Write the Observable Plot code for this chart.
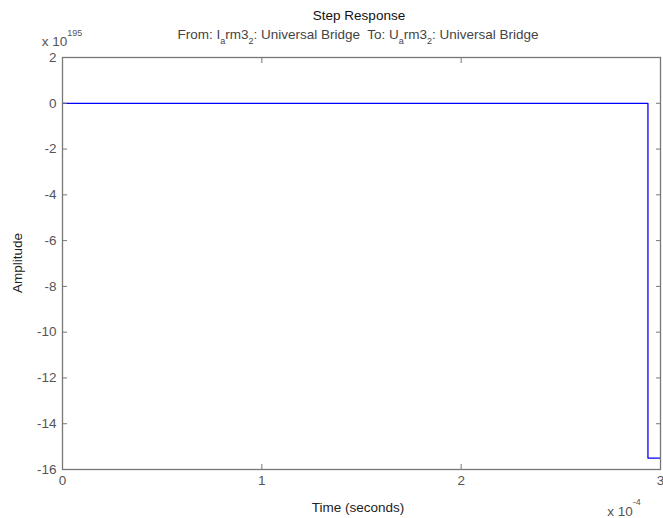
<!DOCTYPE html>
<html><head><meta charset="utf-8">
<script src="https://cdn.jsdelivr.net/npm/d3@7"></script>
<script src="https://cdn.jsdelivr.net/npm/@observablehq/plot@0.6"></script>
<style>
body{margin:0;background:#fff;}
svg{font-family:"Liberation Sans",Arial,sans-serif;}
</style></head>
<body><div id="chart"></div>
<script>
// time in units of 1e-4 s, amplitude in units of 1e195
const time = [0, 2.937, 3];
const amplitude = [0, -15.5, -15.5];
const xTicks = [0, 1, 2, 3];
const yTicks = [2, 0, -2, -4, -6, -8, -10, -12, -14, -16];

const data = time.map((t, i) => ({t, a: amplitude[i]}));
const empty = () => "";
const fmt = d => String(d);
const tickColor = "#777";
const labelColor = "#555";
const FS = 13.5;

const plot = Plot.plot({
  width: 663, height: 518,
  marginLeft: 62, marginRight: 3, marginTop: 57, marginBottom: 49,
  style: {fontFamily: "Liberation Sans, Arial, sans-serif", fontSize: FS + "px", background: "#fff", overflow: "visible"},
  x: {domain: [0, 3]},
  y: {domain: [-16, 2]},
  marks: [
    Plot.line(data, {x: "t", y: "a", curve: "step-after", stroke: "#0000ff", strokeWidth: 1.3}),
    Plot.axisX(xTicks, {anchor: "bottom", tickSize: -5, tickFormat: empty, stroke: tickColor, label: null}),
    Plot.axisX(xTicks, {anchor: "top", tickSize: -5, tickFormat: empty, stroke: tickColor, label: null}),
    Plot.axisY(yTicks, {anchor: "left", tickSize: -5, tickFormat: empty, stroke: tickColor, label: null}),
    Plot.axisY(yTicks, {anchor: "right", tickSize: -5, tickFormat: empty, stroke: tickColor, label: null}),
    Plot.axisX(xTicks, {anchor: "bottom", tickSize: 0, tickPadding: 6, tickFormat: fmt, fill: labelColor, label: null, fontSize: FS}),
    Plot.axisY(yTicks, {anchor: "left", tickSize: 0, tickPadding: 6, tickFormat: fmt, fill: labelColor, label: null, fontSize: FS}),
    Plot.frame({stroke: tickColor, strokeWidth: 1.3})
  ]
});
document.getElementById("chart").appendChild(plot);

const svg = d3.select(plot);
const ff = "Liberation Sans, Arial, sans-serif";
const add = (x, y, txt, opts = {}) => svg.append("text")
  .attr("x", x).attr("y", y)
  .attr("text-anchor", opts.anchor || "middle")
  .attr("fill", opts.fill || "#222")
  .attr("font-size", opts.size || FS)
  .attr("font-family", ff)
  .text(txt);

add(359, 20, "Step Response", {fill: "#111"});

// subtitle with subscripts
const sub = svg.append("text").attr("x", 358).attr("y", 39)
  .attr("text-anchor", "middle").attr("fill", "#444").attr("font-size", FS)
  .attr("font-family", ff).style("white-space", "pre");
const parts = [["From: I", 0], ["a", 1], ["rm3", 0], ["2", 1], [": Universal Bridge  To: U", 0], ["a", 1], ["rm3", 0], ["2", 1], [": Universal Bridge", 0]];
let prevSub = false;
parts.forEach(([t, s]) => {
  const ts = sub.append("tspan").text(t);
  if (s) { ts.attr("dy", 5).attr("font-size", 9); prevSub = true; }
  else if (prevSub) { ts.attr("dy", -5); prevSub = false; }
});

// exponent labels
const e1 = svg.append("text").attr("x", 62).attr("y", 46).attr("fill", labelColor)
  .attr("font-size", FS).attr("font-family", ff);
e1.append("tspan").text("x 10");
e1.append("tspan").text("195").attr("dy", -10).attr("font-size", 9);

const e2 = svg.append("text").attr("x", 624).attr("y", 516).attr("fill", labelColor)
  .attr("font-size", FS).attr("font-family", ff);
e2.append("tspan").text("x 10");
e2.append("tspan").text("-4").attr("dy", -11).attr("font-size", 9);

add(358, 512, "Time (seconds)");
svg.append("text").attr("transform", "translate(22,263) rotate(-90)")
  .attr("text-anchor", "middle").attr("fill", "#222").attr("font-size", FS)
  .attr("font-family", ff).text("Amplitude");
</script></body></html>
